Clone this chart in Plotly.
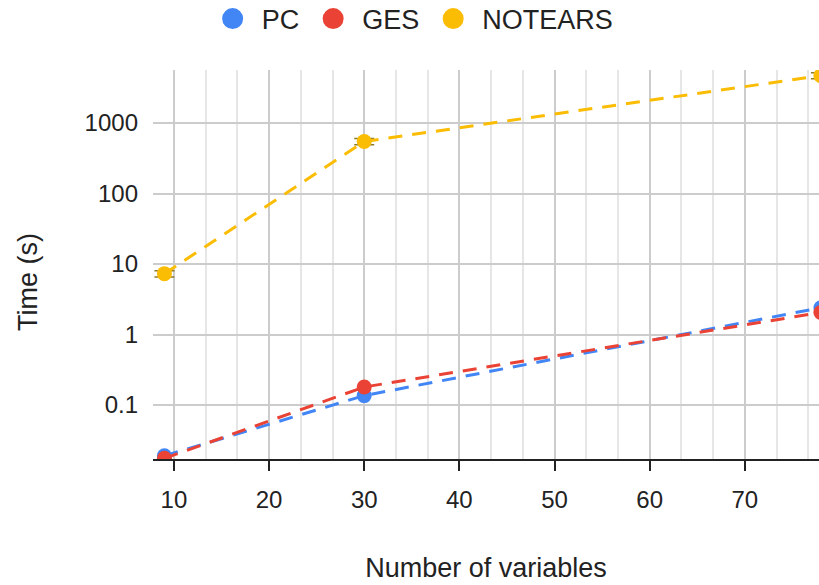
import plotly.graph_objects as go

n_vars = [9, 30, 78]
pc_time = [0.019, 0.136, 2.4]
ges_time = [0.0175, 0.18, 2.05]
notears_time = [7.3, 547, 4700]
notears_err = [0.75, 55, 470]

series = [
    ("PC", pc_time, "#4285F4"),
    ("GES", ges_time, "#EA4335"),
]

FONT = "Liberation Sans, Arial, sans-serif"
DASH = "14px,10px"

fig = go.Figure()

fig.add_trace(go.Scatter(
    x=n_vars, y=notears_time, mode="lines+markers", name="NOTEARS",
    line=dict(color="#FBBC04", width=3, dash=DASH),
    marker=dict(size=15, color="#FBBC04"),
    error_y=dict(type="data", array=notears_err, color="#8d7b2b", thickness=1.5, width=10),
    showlegend=False,
))
for name, vals, col in series:
    fig.add_trace(go.Scatter(
        x=n_vars, y=vals, mode="lines+markers", name=name,
        line=dict(color=col, width=3, dash=DASH),
        marker=dict(size=15, color=col),
        showlegend=False,
    ))

for name, col in [("PC", "#4285F4"), ("GES", "#EA4335"), ("NOTEARS", "#FBBC04")]:
    fig.add_trace(go.Scatter(
        x=[None], y=[None], mode="markers", name=name,
        marker=dict(size=16, color=col, line=dict(color=col, width=5)),
        showlegend=True,
    ))

fig.update_layout(
    width=819, height=585,
    margin=dict(l=153, r=0, t=70, b=126, autoexpand=False),
    paper_bgcolor="white", plot_bgcolor="white",
    font=dict(family=FONT, color="#222222", size=24),
    legend=dict(
        orientation="h", xref="container", yref="container",
        x=0.502, xanchor="center", y=1 - 19 / 585, yanchor="middle",
        font=dict(size=27, color="#222222"), itemsizing="trace",
        itemwidth=48, traceorder="normal",
    ),
    xaxis=dict(
        range=[7.8, 77.8], dtick=10, tick0=10,
        showgrid=True, gridcolor="#cccccc", gridwidth=1.5,
        minor=dict(dtick=10/3, tick0=10, showgrid=True, gridcolor="#e6e6e6", gridwidth=1.5),
        showline=True, linecolor="#222222", linewidth=1.5,
        ticks="outside", ticklen=10, tickwidth=1.5, tickcolor="#222222",
        ticklabelstandoff=8,
        tickfont=dict(size=24, color="#222222"),
        title=dict(text="Number of variables", font=dict(size=27, color="#222222"), standoff=47),
        zeroline=False,
    ),
    yaxis=dict(
        type="log", range=[-1.766, 3.752],
        tickvals=[0.1, 1, 10, 100, 1000], ticktext=["0.1", "1", "10", "100", "1000"],
        showgrid=True, gridcolor="#cccccc", gridwidth=1.5,
        showline=False, ticks="", ticklabelstandoff=14,
        tickfont=dict(size=24, color="#222222"),
        zeroline=False,
    ),
    annotations=[dict(
        text="Time (s)", xref="paper", yref="paper",
        x=(28 - 153) / 666, y=(459 - 282) / 389,
        xanchor="center", yanchor="middle", textangle=-90, showarrow=False,
        font=dict(size=27, color="#222222"),
    )],
)

fig.write_html("out.html")
